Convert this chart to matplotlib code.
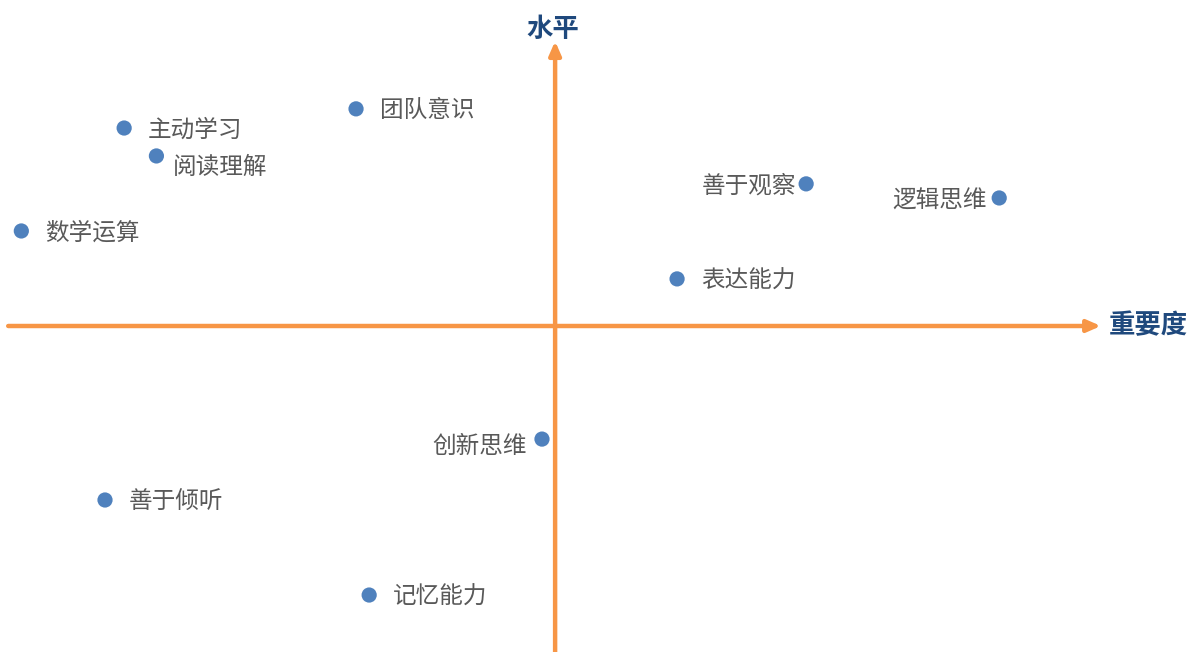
import matplotlib
matplotlib.use('Agg')
import matplotlib.pyplot as plt

plt.rcParams['font.family'] = ['Noto Sans CJK SC', 'DejaVu Sans']

# skill items: importance (x) vs level (y)
skills = ['团队意识', '主动学习', '阅读理解', '数学运算', '善于观察',
          '逻辑思维', '表达能力', '创新思维', '善于倾听', '记忆能力']
importance = [-3.64, -7.88, -7.29, -9.76, 4.59, 8.12, 2.23, -0.24, -8.23, -3.40]
level = [7.70, 7.02, 6.03, 3.37, 5.04, 4.54, 1.67, -4.01, -6.17, -9.54]

x_title = '重要度'
y_title = '水平'

# label offsets in pixels (dx, dy) and alignment
label_pos = {
    '阅读理解': (16, -11, 'left'),
    '善于观察': (-10, -2, 'right'),
    '逻辑思维': (-12, -3, 'right'),
    '创新思维': (-15, -7, 'right'),
}

orange = '#F79646'
blue = '#4F81BD'
gray = '#595959'
navy = '#1F497D'

fig = plt.figure(figsize=(11.95, 6.52), dpi=100)
ax = fig.add_axes([0, 0, 1, 1])
ax.set_xlim(-10.15, 11.70)
ax.set_ylim(-11.56, 11.56)
ax.axis('off')

# quadrant axes with arrows
ax.annotate('', xy=(9.98, 0), xytext=(-10.0, 0),
            arrowprops=dict(arrowstyle='-|>,head_length=0.8,head_width=0.35',
                            color=orange, lw=3.2, shrinkA=0, shrinkB=0))
ax.annotate('', xy=(0, 10.1), xytext=(0, -11.56),
            arrowprops=dict(arrowstyle='-|>,head_length=0.8,head_width=0.35',
                            color=orange, lw=3.2, shrinkA=0, shrinkB=0))

ax.scatter(importance, level, s=120, color=blue, zorder=3, edgecolors='none')

for name, x, y in zip(skills, importance, level):
    dx, dy, ha = label_pos.get(name, (24, -2, 'left'))
    ax.annotate(name, (x, y), xytext=(dx * 0.72, dy * 0.72),
                textcoords='offset points', ha=ha, va='center',
                fontsize=17, color=gray)

ax.text(-0.05, 10.5, y_title, ha='center', va='center', fontsize=19,
        fontweight='bold', color=navy)
ax.text(10.13, 0.0, x_title, ha='left', va='center', fontsize=19,
        fontweight='bold', color=navy)

fig.savefig('out.png', dpi=100)
